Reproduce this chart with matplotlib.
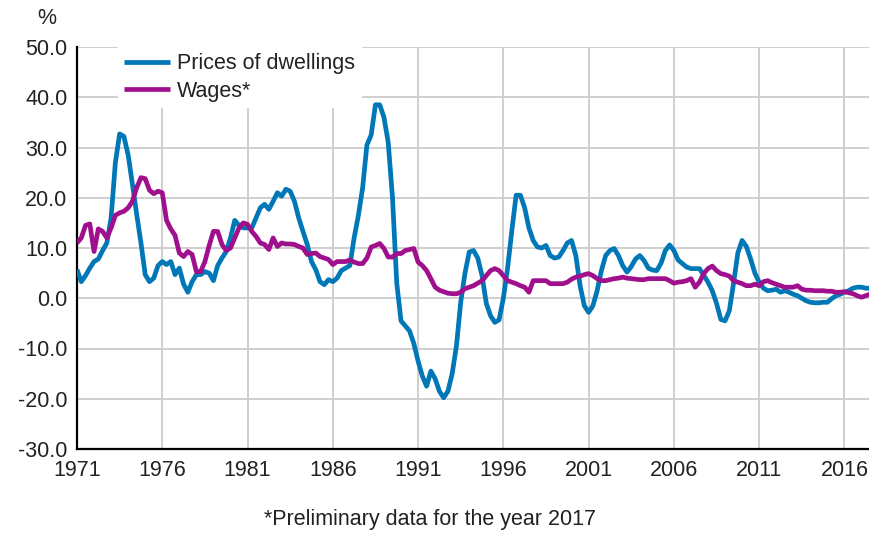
import numpy as np
import matplotlib
matplotlib.use("Agg")
import matplotlib.pyplot as plt

plt.rcParams['font.family'] = ['Liberation Sans', 'DejaVu Sans']

# quarterly annual change (%), 1971Q1 .. 2017Q3
start_year = 1971
dwellings = [
    5.7, 3.3, 4.5, 6.0,       # 1971
    7.3, 7.8, 9.5, 11.0,      # 1972
    16.0, 27.0, 32.7, 32.2,   # 1973
    28.5, 22.7, 16.7, 11.0,   # 1974
    4.7, 3.3, 4.0, 6.5,       # 1975
    7.3, 6.7, 7.3, 4.7,       # 1976
    6.0, 2.8, 1.2, 3.3,       # 1977
    4.7, 4.7, 5.3, 5.0,       # 1978
    3.5, 6.5, 8.0, 9.3,       # 1979
    12.0, 15.5, 14.5, 14.0,   # 1980
    14.0, 14.0, 16.0, 18.0,   # 1981
    18.7, 17.7, 19.3, 21.0,   # 1982
    20.3, 21.7, 21.3, 19.3,   # 1983
    16.0, 13.3, 10.7, 7.3,    # 1984
    5.7, 3.3, 2.7, 3.7,       # 1985
    3.3, 4.0, 5.5, 6.0,       # 1986
    6.5, 12.0, 16.5, 22.0,    # 1987
    30.5, 32.5, 38.5, 38.5,   # 1988
    36.0, 31.0, 20.0, 3.0,    # 1989
    -4.5, -5.5, -6.5, -9.0,   # 1990
    -12.5, -15.5, -17.5, -14.5,  # 1991
    -16.0, -18.5, -19.8, -18.5,  # 1992
    -15.0, -9.5, -0.8, 5.0,   # 1993
    9.2, 9.5, 8.0, 4.5,       # 1994
    -1.0, -3.5, -4.8, -4.3,   # 1995
    0.0, 6.0, 13.5, 20.5,     # 1996
    20.5, 18.0, 14.0, 11.5,   # 1997
    10.2, 10.0, 10.5, 8.5,    # 1998
    8.0, 8.2, 9.5, 11.0,      # 1999
    11.5, 8.5, 2.5, -1.5,     # 2000
    -2.8, -1.5, 1.5, 5.5,     # 2001
    8.5, 9.5, 9.9, 8.5,       # 2002
    6.5, 5.2, 6.3, 7.8,       # 2003
    8.5, 7.5, 6.0, 5.6,       # 2004
    5.5, 7.0, 9.5, 10.6,      # 2005
    9.5, 7.6, 6.9, 6.2,       # 2006
    5.9, 5.9, 5.9, 4.6,       # 2007
    3.2, 1.5, -1.0, -4.2,     # 2008
    -4.5, -2.5, 3.0, 9.0,     # 2009
    11.5, 10.3, 7.8, 5.0,     # 2010
    3.2, 2.0, 1.5, 1.6,       # 2011
    1.8, 1.2, 1.5, 1.2,       # 2012
    0.8, 0.5, 0.0, -0.5,      # 2013
    -0.8, -0.9, -0.9, -0.8,   # 2014
    -0.8, -0.1, 0.5, 0.8,     # 2015
    1.2, 1.5, 2.0, 2.2,       # 2016
    2.2, 2.0, 2.0,            # 2017
]
wages = [
    11.0, 12.0, 14.5, 14.8,   # 1971
    9.3, 13.8, 13.3, 12.0,    # 1972
    14.0, 16.5, 17.0, 17.3,   # 1973
    18.0, 19.3, 22.0, 24.0,   # 1974
    23.8, 21.5, 20.8, 21.3,   # 1975
    21.0, 15.5, 13.8, 12.5,   # 1976
    9.0, 8.3, 9.3, 8.7,       # 1977
    5.3, 5.3, 7.3, 10.5,      # 1978
    13.3, 13.3, 10.7, 9.5,    # 1979
    10.0, 12.0, 14.0, 15.0,   # 1980
    14.7, 13.3, 12.3, 11.0,   # 1981
    10.7, 9.7, 12.0, 10.3,    # 1982
    11.0, 10.8, 10.8, 10.7,   # 1983
    10.3, 10.0, 8.7, 8.9,     # 1984
    9.0, 8.3, 8.0, 7.7,       # 1985
    6.7, 7.3, 7.3, 7.3,       # 1986
    7.6, 7.2, 6.9, 6.9,       # 1987
    8.0, 10.2, 10.5, 10.9,    # 1988
    9.9, 8.2, 8.2, 8.9,       # 1989
    8.9, 9.5, 9.7, 9.9,       # 1990
    7.2, 6.5, 5.5, 3.9,       # 1991
    2.2, 1.6, 1.3, 1.0,       # 1992
    0.9, 0.9, 1.2, 1.9,       # 1993
    2.2, 2.5, 3.0, 3.5,       # 1994
    4.5, 5.5, 5.9, 5.5,       # 1995
    4.5, 3.5, 3.2, 2.9,       # 1996
    2.5, 2.2, 1.2, 3.5,       # 1997
    3.5, 3.5, 3.5, 2.9,       # 1998
    2.9, 2.9, 2.9, 3.2,       # 1999
    3.8, 4.2, 4.4, 4.7,       # 2000
    4.9, 4.5, 3.9, 3.5,       # 2001
    3.5, 3.7, 3.9, 4.0,       # 2002
    4.2, 4.0, 3.9, 3.8,       # 2003
    3.7, 3.7, 3.9, 3.9,       # 2004
    3.9, 3.9, 3.9, 3.5,       # 2005
    3.0, 3.2, 3.3, 3.5,       # 2006
    3.9, 2.2, 3.2, 4.9,       # 2007
    5.9, 6.4, 5.5, 4.9,       # 2008
    4.7, 4.4, 3.5, 3.2,       # 2009
    2.9, 2.5, 2.5, 2.8,       # 2010
    2.5, 3.3, 3.5, 3.1,       # 2011
    2.8, 2.5, 2.2, 2.2,       # 2012
    2.2, 2.5, 1.8, 1.6,       # 2013
    1.6, 1.5, 1.5, 1.5,       # 2014
    1.4, 1.4, 1.2, 1.2,       # 2015
    1.3, 1.1, 0.9, 0.5,       # 2016
    0.2, 0.5, 0.8,            # 2017
]
year_ticks = list(range(1971, 2017, 5))
y_ticks = list(range(-30, 51, 10))

BLUE = '#0077b6'
PURPLE = '#a0108c'
FS = 15.5

t = start_year + np.arange(len(dwellings)) / 4.0

fig = plt.figure(figsize=(8.7, 5.33), dpi=100)
ax = fig.add_axes([77 / 870, 1 - 449 / 533, 1 - 77 / 870, (449 - 47) / 533])

ax.plot(t, dwellings, color=BLUE, lw=3.4, label='Prices of dwellings',
        solid_capstyle='butt', zorder=3)
ax.plot(t, wages, color=PURPLE, lw=3.4, label='Wages*',
        solid_capstyle='butt', zorder=3)

ax.set_xlim(start_year, t[-1])
ax.set_ylim(-30, 50)
ax.set_xticks(year_ticks)
ax.set_xticklabels([str(y) for y in year_ticks])
ax.set_yticks(y_ticks)
ax.set_yticklabels([f'{v:.1f}' for v in y_ticks])
ax.tick_params(axis='both', length=0, labelsize=FS, colors='#222222')
ax.tick_params(axis='x', pad=8)
ax.tick_params(axis='y', pad=7)

ax.grid(True, color='#cccccc', lw=1.3)
ax.set_axisbelow(True)
for side in ('top', 'right'):
    ax.spines[side].set_visible(False)
for side in ('left', 'bottom'):
    ax.spines[side].set_color('black')
    ax.spines[side].set_linewidth(1.6)

leg = ax.legend(loc='upper left', bbox_to_anchor=(118 / 870, 1 - 47 / 533),
                bbox_transform=fig.transFigure, fontsize=FS,
                handlelength=2.1, handletextpad=0.35, labelspacing=0.3,
                borderpad=0.3, borderaxespad=0, frameon=True,
                fancybox=False)
leg.get_frame().set_facecolor('white')
leg.get_frame().set_edgecolor('none')
leg.get_frame().set_alpha(1)
for txt in leg.get_texts():
    txt.set_color('#222222')

fig.text(47 / 870, 1 - 18 / 533, '%', fontsize=FS, ha='center', va='center',
         color='#222222')
fig.text(430 / 870, 1 - 519 / 533, '*Preliminary data for the year 2017',
         fontsize=FS, ha='center', va='center', color='#222222')

fig.savefig('out.png', dpi=100)
